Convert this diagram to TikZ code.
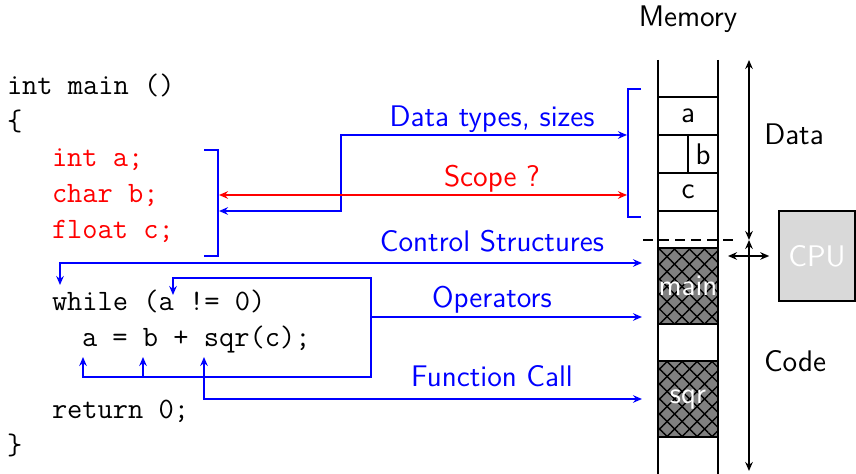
\documentclass[tikz,border=0pt]{standalone}
\usetikzlibrary{arrows.meta}
\usetikzlibrary{patterns.meta}
\tikzset{
	every path/.style={line width=1pt},
	>={Stealth[length=4.5pt,width=3.8pt,inset=1.5pt]},
	code/.style={
		font=\fontsize{14.8}{17}\selectfont\ttfamily,
		anchor=base west,
		inner sep=0pt,
	},
	decl/.style={code, text=red},
	lbl/.style={
		font=\fontsize{14.9}{17}\selectfont\sffamily,
		anchor=base,
		inner sep=0pt,
	},
	link/.style={blue, <->},
	scopelink/.style={red, <->},
	bracket/.style={blue},
	dim/.style={black, line width=0.8pt, <->},
	cell/.style={
		draw,
		rectangle,
		minimum width=30pt,
		minimum height=19pt,
		inner sep=0pt,
		font=\fontsize{14.9}{17}\selectfont\sffamily,
	},
	codecell/.style={
		cell,
		minimum height=38pt,
		text=white,
		preaction={fill=black!50},
		preaction={pattern={Lines[angle=45,distance=5.3pt,line width=0.7pt]}},
		pattern={Lines[angle=-45,distance=5.3pt,line width=0.7pt]},
	},
	cpubox/.style={
		draw,
		rectangle,
		line width=0.8pt,
		fill=black!15,
		text=white,
		minimum width=38pt,
		minimum height=45pt,
		font=\fontsize{14.9}{17}\selectfont\sffamily,
	},
}

\begin{document}
\begin{tikzpicture}[x=0.5pt,y=-0.5pt]
	\useasboundingbox (0,0) rectangle (856,474);

	% source code
	\node[code] (hdr)  at (6,95)   {int main ()};
	\node[code] (lbr)  at (6,131)  {\{};
	\node[decl] (da)   at (51,167) {int a;};
	\node[decl] (db)   at (51,203) {char b;};
	\node[decl] (dc)   at (51,239) {float c;};
	\node[code] (loop) at (51,311) {while (a != 0)};
	\node[code] (body) at (81,347) {a = b + sqr(c);};
	\node[code] (ret)  at (51,419) {return 0;};
	\node[code] (rbr)  at (6,455)  {\}};

	% memory
	\node[lbl] (mem) at (688,27) {Memory};
	\draw (658,60) -- (658,474);
	\draw (718,60) -- (718,474);
	\node[cell] (ca) at (688,116) {a};
	\node[cell] (cbrow) at (688,154) {};
	\node[cell,minimum width=15pt] (cb) at (703,154) {b};
	\node[cell] (cc) at (688,192) {c};
	\node[codecell] (cmain) at (688,286) {main};
	\node[codecell] (csqr) at (688,399.5) {sqr};
	\draw[dash pattern=on 5pt off 3pt] (643,240) -- (733,240);

	\coordinate (dtop) at (749,60);
	\coordinate (dmid) at (749,240);
	\coordinate (dbot) at (749,471);
	\draw[dim] (dtop) -- (dmid);
	\draw[dim] (dmid) -- (dbot);
	\node[lbl] (datal) at (794,145) {Data};
	\node[lbl] (codel) at (795,372) {Code};

	\node[cpubox] (cpu) at (817,256) {CPU};
	\coordinate (bus) at (728,256);
	\draw[dim,shorten <=4.5pt] (cpu) -- (bus);

	% brackets
	\draw[bracket] (204,150) -- (218,150) -- (218,256) -- (204,256);
	\draw[bracket] (641,89) -- (628,89) -- (628,217) -- (641,217);

	% declarations
	\coordinate (dty) at (219,211);
	\coordinate (mty) at (627,135);
	\coordinate (dsc) at (219,195);
	\coordinate (msc) at (627,195);
	\draw[link] (dty) -- (341,211) |- (mty);
	\draw[scopelink] (dsc) -- (msc);
	\node[lbl,blue] (tylbl) at (492,127) {Data types, sizes};
	\node[lbl,red]  (sclbl) at (492,187) {Scope ?};

	% statements
	\coordinate (wtop)   at (60,285);
	\coordinate (acond)  at (173,295);
	\coordinate (aop)    at (83,357);
	\coordinate (bop)    at (143,357);
	\coordinate (opbus)  at (143,377);
	\coordinate (opsrc)  at (371,317);
	\coordinate (sqcall) at (204,357);
	\coordinate (mctl)   at (642,263);
	\coordinate (mop)    at (642,317);
	\coordinate (mcall)  at (642,399);

	\draw[link] (wtop) |- (mctl);
	\draw[link] (acond) |- (371,278) -- (371,377) -| (aop);
	\draw[blue,->] (opbus) -- (bop);
	\draw[blue,->] (opsrc) -- (mop);
	\draw[link] (sqcall) |- (mcall);

	\node[lbl,blue] (ctlbl) at (492,252) {Control Structures};
	\node[lbl,blue] (oplbl) at (492,308) {Operators};
	\node[lbl,blue] (fclbl) at (492,387) {Function Call};
\end{tikzpicture}
\end{document}
